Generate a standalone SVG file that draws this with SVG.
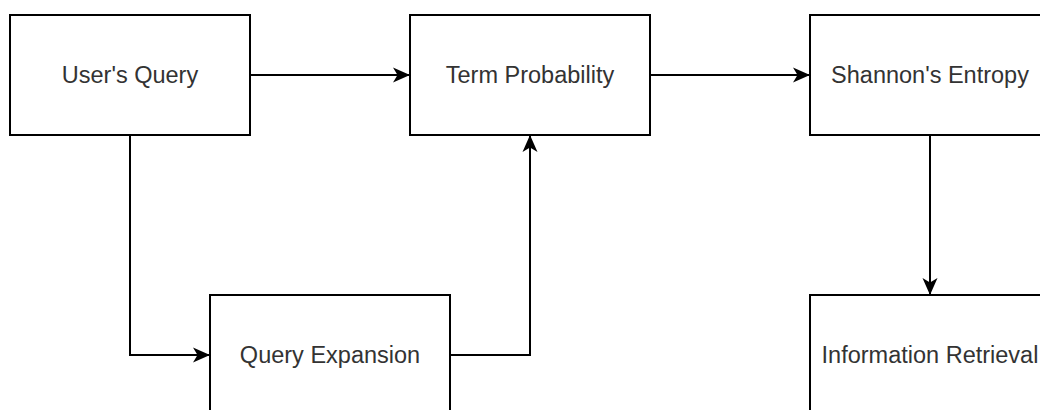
<svg xmlns="http://www.w3.org/2000/svg" width="1040" height="410" viewBox="0 0 1040 410">
  <style>
    .box { fill: #ffffff; stroke: #000000; stroke-width: 2; }
    .label { font-family: "Liberation Sans", Arial, Helvetica, sans-serif; font-size: 23.5px; fill: #333333; text-anchor: middle; }
    .edge { fill: none; stroke: #000000; stroke-width: 2; marker-end: url(#arrow); }
  </style>
  <defs>
    <marker id="arrow" markerUnits="userSpaceOnUse" viewBox="-18 -9 20 18" refX="0" refY="0" markerWidth="20" markerHeight="18" orient="auto">
      <path d="M 0 0 L -17 -7.5 L -12.5 0 L -17 7.5 Z" fill="#000000" stroke="none"/>
    </marker>
  </defs>
  <rect width="1040" height="410" fill="#ffffff"/>

  <g id="connectors">
    <path class="edge" d="M 250 75 L 410 75"/>
    <path class="edge" d="M 650 75 L 810 75"/>
    <path class="edge" d="M 130 135 L 130 355 L 210 355"/>
    <path class="edge" d="M 450 355 L 530 355 L 530 135"/>
    <path class="edge" d="M 930 135 L 930 295"/>
  </g>

  <g id="users-query">
    <rect class="box" x="10" y="15" width="240" height="120"/>
    <text class="label" x="130" y="83">User's Query</text>
  </g>
  <g id="term-probability">
    <rect class="box" x="410" y="15" width="240" height="120"/>
    <text class="label" x="530" y="83">Term Probability</text>
  </g>
  <g id="shannons-entropy">
    <rect class="box" x="810" y="15" width="240" height="120"/>
    <text class="label" x="930" y="83">Shannon's Entropy</text>
  </g>
  <g id="query-expansion">
    <rect class="box" x="210" y="295" width="240" height="120"/>
    <text class="label" x="330" y="363">Query Expansion</text>
  </g>
  <g id="information-retrieval">
    <rect class="box" x="810" y="295" width="240" height="120"/>
    <text class="label" x="930" y="363">Information Retrieval</text>
  </g>
</svg>
